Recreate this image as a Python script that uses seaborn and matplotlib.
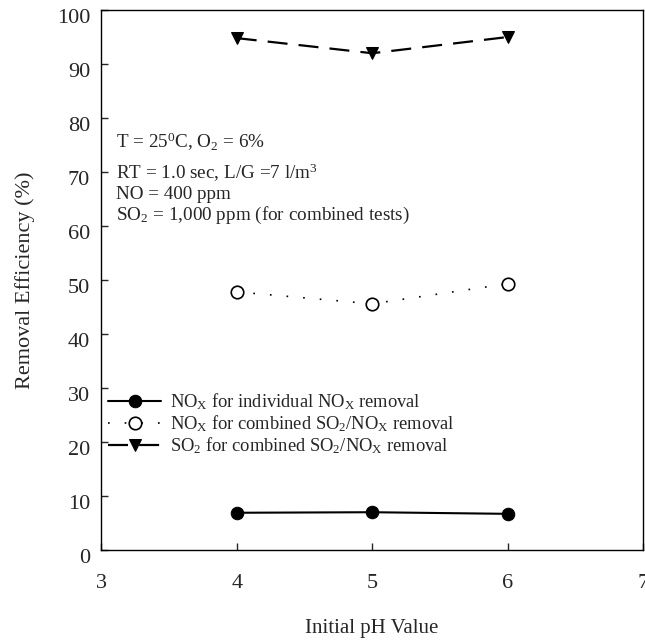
import matplotlib
matplotlib.use('Agg')
import matplotlib.pyplot as plt
import matplotlib.transforms as mtransforms
import pandas as pd
import seaborn as sns

# data
ph = [4, 5, 6]
nox_individual = [6.9, 7.0, 6.7]
nox_combined = [47.8, 45.6, 49.3]
so2_combined = [94.8, 92.0, 95.0]

labels = [r'NO$_\mathrm{X}$ for individual NO$_\mathrm{X}$ removal',
          r'NO$_\mathrm{X}$ for combined SO$_2$/NO$_\mathrm{X}$ removal',
          r'SO$_2$ for combined SO$_2$/NO$_\mathrm{X}$ removal']

conditions = [r'T = 25$^0$C, O$_2$ = 6%',
              r'RT = 1.0 sec, L/G =7 l/m$^3$',
              'NO = 400 ppm',
              r'SO$_2$ = 1,000 ppm (for combined tests)']

sns.set_theme(style='white')
plt.rcParams['font.family'] = ['Liberation Serif', 'DejaVu Serif']
plt.rcParams['mathtext.fontset'] = 'custom'
plt.rcParams['mathtext.rm'] = 'Liberation Serif'
plt.rcParams['mathtext.it'] = 'Liberation Serif:italic'
plt.rcParams['mathtext.bf'] = 'Liberation Serif:bold'

df = pd.DataFrame({'ph': ph, 'a': nox_individual, 'b': nox_combined, 'c': so2_combined})

fig = plt.figure(figsize=(6.45, 6.43), dpi=100)
ax = fig.add_axes([0.157, 0.1446, 0.84, 0.8398])

sns.lineplot(data=df, x='ph', y='a', ax=ax, color='black', linewidth=1.5,
             marker='o', markersize=9, markerfacecolor='black', markeredgecolor='black',
             label=labels[0])
sns.lineplot(data=df, x='ph', y='b', ax=ax, color='black', linewidth=1.2,
             linestyle=(0, (1, 9)), marker='o', markersize=9, markerfacecolor='white',
             markeredgecolor='black', markeredgewidth=1.2, label=labels[1])
sns.lineplot(data=df, x='ph', y='c', ax=ax, color='black', linewidth=1.6,
             linestyle=(0, (9, 5)), marker='v', markersize=9, markerfacecolor='black',
             markeredgecolor='black', label=labels[2])

ax.set_xlim(3, 7)
ax.set_ylim(0, 100)
ax.set_xticks([3, 4, 5, 6, 7])
ax.set_yticks(range(0, 101, 10))
ax.tick_params(axis='x', direction='in', length=5, width=1, pad=17, labelsize=16, top=False, bottom=True)
ax.tick_params(axis='y', direction='in', length=5, width=1, pad=8, labelsize=16, left=True, right=False)
shift = mtransforms.ScaledTranslation(0, -4 / 72, fig.dpi_scale_trans)
for lab in ax.get_yticklabels():
    lab.set_transform(lab.get_transform() + shift)
for s in ax.spines.values():
    s.set_color('black')
    s.set_linewidth(1)

ax.set_xlabel('Initial pH Value', fontsize=15, labelpad=19)
ax.set_ylabel('Removal Efficiency (%)', fontsize=16, labelpad=16)

ys = [0.755, 0.698, 0.659, 0.62]
for t, y in zip(conditions, ys):
    ax.text(0.028, y, t, transform=ax.transAxes, fontsize=13.8, va='center', ha='left')

ax.legend(loc='upper left', bbox_to_anchor=(0.0, 0.305), frameon=False, fontsize=13.3,
          handlelength=2.9, handletextpad=0.45, labelspacing=0.05, borderaxespad=0.15,
          borderpad=0.2)

fig.savefig('out.png', dpi=100)
